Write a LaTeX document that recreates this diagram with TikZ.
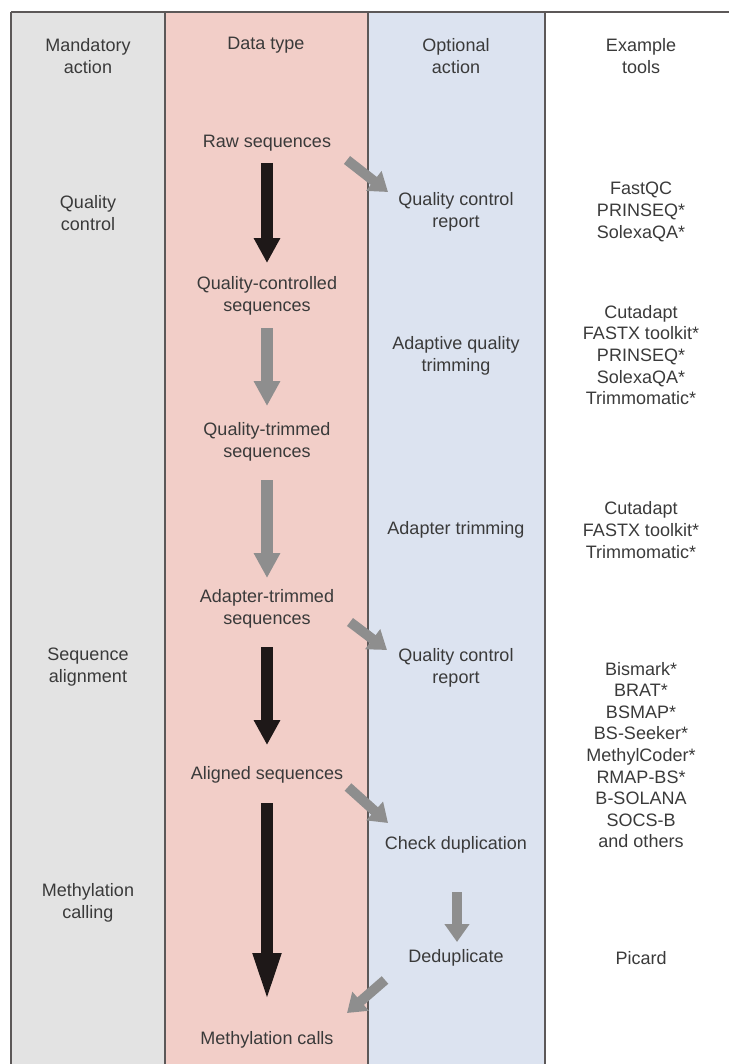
\documentclass[tikz,border=0pt]{standalone}
\usepackage{fontspec}
\setmainfont{Liberation Sans}
\usepackage{xcolor}
\usepackage{tikz}
\usetikzlibrary{arrows.meta, positioning, calc}
\definecolor{mandgray}{HTML}{E3E3E3}
\definecolor{datapink}{HTML}{F2CEC8}
\definecolor{optblue}{HTML}{DCE3F0}
\definecolor{rulegray}{HTML}{5C5858}
\definecolor{textgray}{HTML}{3A3A3A}
\definecolor{darkarrow}{HTML}{1E1818}
\definecolor{lightarrow}{HTML}{8E8E8E}
\tikzstyle{txt} = [text=textgray, align=center, font=\fontsize{9}{10.8}\selectfont, inner sep=0pt]
\tikzstyle{divider} = [draw=rulegray, line width=0.8pt]
\tikzstyle{mainarrow} = [draw=darkarrow, line width=6pt, -{Triangle[length=12.5pt, width=12.5pt]}]
\tikzstyle{sidearrow} = [draw=lightarrow, line width=6pt, -{Triangle[length=12.5pt, width=12.5pt]}]
\tikzstyle{skewarrow} = [draw=lightarrow, line width=5pt, -{Triangle[length=9pt, width=12pt]}]

\begin{document}
\begin{tikzpicture}[x=0.5pt, y=-0.5pt]
    \useasboundingbox (0,0) rectangle (729,1064);

    % Columns
    \fill[mandgray] (11,12) rectangle (165,1064);
    \fill[datapink] (165,12) rectangle (368,1064);
    \fill[optblue] (368,12) rectangle (545,1064);
    \draw[divider] (11,12) -- (729,12);
    \draw[divider] (11,12) -- (11,1064);
    \draw[divider] (165,12) -- (165,1064);
    \draw[divider] (368,12) -- (368,1064);
    \draw[divider] (545,12) -- (545,1064);

    % Headings
    \node (mandhead) [txt] at (88,56) {Mandatory\\action};
    \node (datahead) [txt] at (266,45) {Data type};
    \node (opthead) [txt] at (456,56) {Optional\\action};
    \node (toolhead) [txt] at (641,56) {Example\\tools};

    % Mandatory actions
    \node (qcmand) [txt] at (88,213) {Quality\\control};
    \node (alignmand) [txt] at (88,667) {Sequence\\alignment};
    \node (methmand) [txt] at (88,903) {Methylation\\calling};

    % Data types
    \node (rawseq) [txt] at (267,143) {Raw sequences};
    \node (qcseq) [txt] at (267,296) {Quality-controlled\\sequences};
    \node (qtseq) [txt] at (267,442) {Quality-trimmed\\sequences};
    \node (atseq) [txt] at (267,609) {Adapter-trimmed\\sequences};
    \node (alignseq) [txt] at (267,775) {Aligned sequences};
    \node (methcalls) [txt] at (267,1040) {Methylation calls};

    % Optional actions
    \node (qcreport) [txt] at (456,212) {Quality control\\report};
    \node (adqtrim) [txt] at (456,356) {Adaptive quality\\trimming};
    \node (adtrim) [txt] at (456,530) {Adapter trimming};
    \node (qcreporttwo) [txt] at (456,668) {Quality control\\report};
    \node (checkdup) [txt] at (456,845) {Check duplication};
    \node (dedup) [txt] at (456,958) {Deduplicate};

    % Example tools
    \node (qctools) [txt] at (641,212) {FastQC\\PRINSEQ*\\SolexaQA*};
    \node (adqtools) [txt] at (641,355) {Cutadapt\\FASTX toolkit*\\PRINSEQ*\\SolexaQA*\\Trimmomatic*};
    \node (adtools) [txt] at (641,530) {Cutadapt\\FASTX toolkit*\\Trimmomatic*};
    \node (aligntools) [txt] at (641,755) {Bismark*\\BRAT*\\BSMAP*\\BS-Seeker*\\MethylCoder*\\RMAP-BS*\\B-SOLANA\\SOCS-B\\and others};
    \node (deduptools) [txt] at (641,958) {Picard};

    % Main pipeline
    \draw [mainarrow] ($(rawseq)+(0,20)$) -- ($(qcseq)+(0,-33)$);
    \draw [sidearrow] ($(qcseq)+(0,32)$) -- ($(qtseq)+(0,-36)$);
    \draw [sidearrow] ($(qtseq)+(0,38)$) -- ($(atseq)+(0,-31)$);
    \draw [mainarrow] ($(atseq)+(0,38)$) -- ($(alignseq)+(0,-30)$);
    \draw [mainarrow, -{Triangle[length=25pt, width=12.5pt]}] ($(alignseq)+(0,28)$) -- ($(methcalls)+(0,-37)$);

    % Optional branches
    \draw [skewarrow] ($(rawseq)+(80,17)$) -- ($(qcreport)+(-68,-20)$);
    \draw [skewarrow] ($(atseq)+(83,13)$) -- ($(qcreporttwo)+(-69,-18)$);
    \draw [skewarrow] ($(alignseq)+(81,12)$) -- ($(checkdup)+(-68,-22)$);
    \draw [skewarrow] ($(checkdup)+(1,47)$) -- ($(dedup)+(1,-16)$);
    \draw [skewarrow] ($(dedup)+(-71,22)$) -- ($(methcalls)+(80,-27)$);
\end{tikzpicture}
\end{document}
